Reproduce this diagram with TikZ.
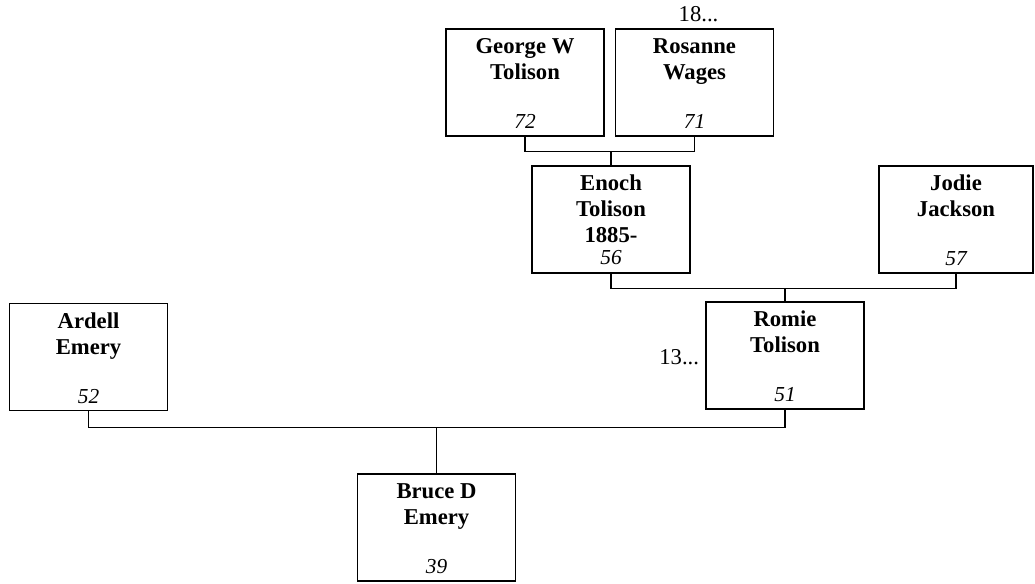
\documentclass[tikz,border=0pt]{standalone}
\usepackage{fontspec}
\setmainfont{Liberation Serif}
\begin{document}
\begin{tikzpicture}[x=0.75pt,y=-0.75pt,line width=1.2pt,
		person/.style={draw,minimum width=118.5pt,minimum height=80pt,inner sep=0pt},
		pname/.style={anchor=north,align=center,inner sep=0pt,font=\fontsize{17}{19.5}\selectfont\bfseries},
		pnum/.style={anchor=base,inner sep=0pt,font=\fontsize{16}{19}\selectfont\itshape},
		pmore/.style={inner sep=0pt,font=\fontsize{17}{20}\selectfont}]
			\useasboundingbox (0,0) rectangle (1035,584);
			% boxes
			\node[person] (george) at (525,82.5) {};
			\node[person] (rosanne) at (694.5,82.5) {};
			\node[person] (enoch) at (611,219.5) {};
			\node[person,minimum width=115.5pt] (jodie) at (956,219.5) {};
			\node[person] (romie) at (785,355.5) {};
			\node[person] (ardell) at (88.5,357) {};
			\node[person] (bruce) at (436.5,527.5) {};
			% names
			\node[pname] (georgename) at ([yshift=-6.75pt]george.north) {George W\\Tolison};
			\node[pname] (rosannename) at ([yshift=-6.75pt]rosanne.north) {Rosanne\\Wages};
			\node[pname] (enochname) at ([yshift=-6.75pt]enoch.north) {Enoch\\Tolison\\1885-};
			\node[pname] (jodiename) at ([yshift=-6.75pt]jodie.north) {Jodie\\Jackson};
			\node[pname] (romiename) at ([yshift=-6.75pt]romie.north) {Romie\\Tolison};
			\node[pname] (ardellname) at ([yshift=-6.75pt]ardell.north) {Ardell\\Emery};
			\node[pname] (brucename) at ([yshift=-6.75pt]bruce.north) {Bruce D\\Emery};
			% numbers
			\node[pnum] (georgenum) at ([yshift=6pt]george.south) {72};
			\node[pnum] (rosannenum) at ([yshift=6pt]rosanne.south) {71};
			\node[pnum] (enochnum) at ([yshift=6.75pt]enoch.south) {56};
			\node[pnum] (jodienum) at ([yshift=6pt]jodie.south) {57};
			\node[pnum] (romienum) at ([yshift=6pt]romie.south) {51};
			\node[pnum] (ardellnum) at ([yshift=6pt]ardell.south) {52};
			\node[pnum] (brucenum) at ([yshift=6pt]bruce.south) {39};
			\node[pmore,anchor=base] (rosannemore) at ([xshift=3pt,yshift=5.25pt]rosanne.north) {18...};
			\node[pmore,anchor=base east] (romiemore) at ([xshift=-4pt,yshift=-7pt]romie.west) {13...};
			% lines
			\draw (george.south) -- ++(0,15) coordinate (gr) -| (rosanne.south);
			\draw (enoch.north) -- (enoch.north |- gr);
			\draw (enoch.south) -- ++(0,15) coordinate (ej) -| (jodie.south);
			\draw (romie.north) -- (romie.north |- ej);
			\draw (ardell.south) -- ++(0,16.5) coordinate (ar) -| (romie.south);
			\draw (bruce.north) -- (bruce.north |- ar);
		\end{tikzpicture}
\end{document}
